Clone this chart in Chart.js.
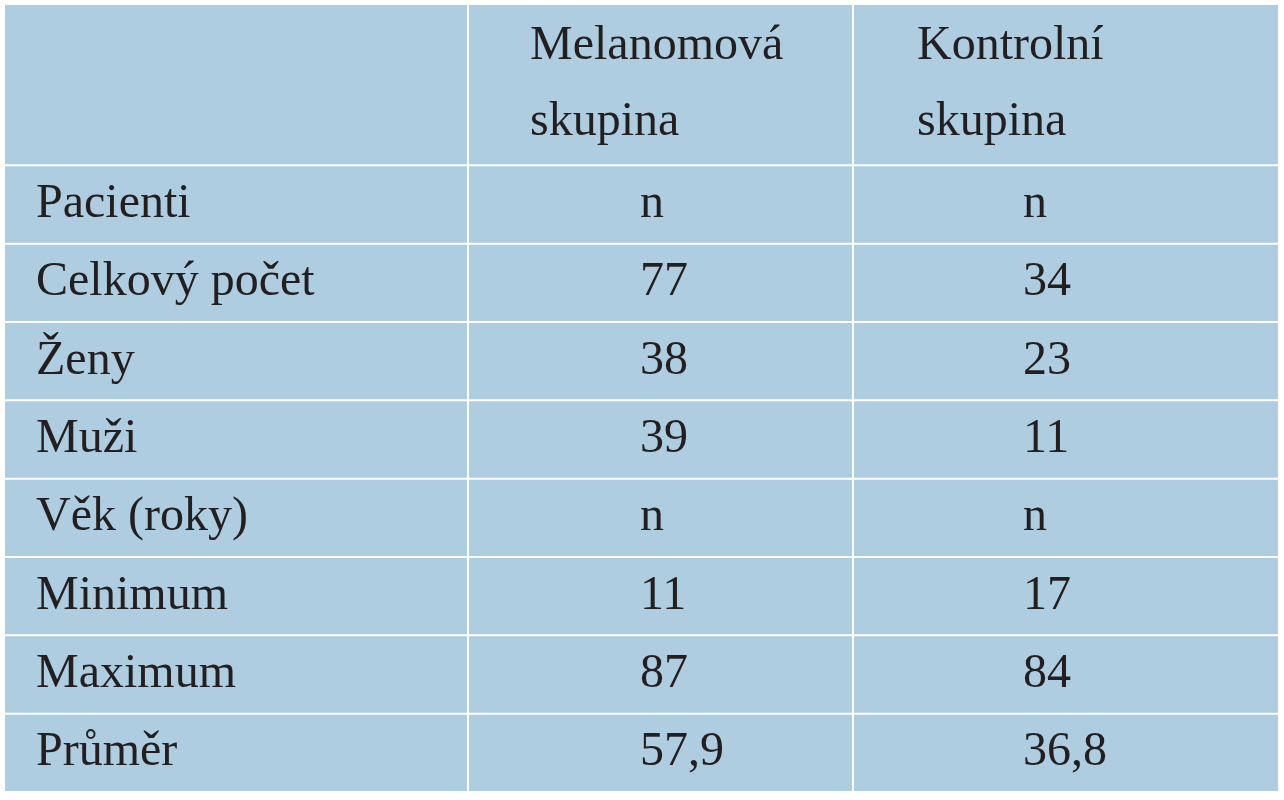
<!DOCTYPE html>
<html><head><meta charset="utf-8">
<script src="https://cdn.jsdelivr.net/npm/chart.js@4"></script>
<style>html,body{margin:0;padding:0;background:#fff}#w{width:1284px;height:800px}</style>
</head><body><div id="w"><canvas id="c"></canvas></div>
<script>
const headers = ["", "Melanomová\nskupina", "Kontrolní\nskupina"];
const rowLabels = ["Pacienti","Celkový počet","Ženy","Muži","Věk (roky)","Minimum","Maximum","Průměr"];
const melanoma = ["n","77","38","39","n","11","87","57,9"];
const control = ["n","34","23","11","n","17","84","36,8"];
const colBounds = [0,464,849,1275];
const rowBounds = [0,2.06,3.06,4.06,5.06,6.06,7.06,8.06,9.06,10.06];

const pts = [];
rowLabels.forEach((r,i)=>{
  const yc=(rowBounds[i+1]+rowBounds[i+2])/2;
  pts.push({x:colBounds[0]+32,y:yc,t:r,a:'left'});
  pts.push({x:colBounds[1]+172,y:yc,t:melanoma[i],a:'left'});
  pts.push({x:colBounds[2]+170,y:yc,t:control[i],a:'left'});
});
const hdr=[{x:colBounds[1]+62,y:1.03,t:headers[1],a:'left'},{x:colBounds[2]+64,y:1.03,t:headers[2],a:'left'}];

const tablePlugin={id:'tbl',
 beforeDatasetsDraw(ch){const a=ch.chartArea,c=ch.ctx;c.save();c.fillStyle='#aecde0';c.fillRect(a.left,a.top,a.width,a.height);
  c.strokeStyle='#ffffff';c.lineWidth=2;const xs=ch.scales.x,ys=ch.scales.y;
  colBounds.forEach(v=>{const p=xs.getPixelForValue(v);c.beginPath();c.moveTo(p,a.top);c.lineTo(p,a.bottom);c.stroke();});
  rowBounds.forEach(v=>{const p=ys.getPixelForValue(v);c.beginPath();c.moveTo(a.left,p);c.lineTo(a.right,p);c.stroke();});
  c.restore();},
 afterDatasetsDraw(ch){const c=ch.ctx,xs=ch.scales.x,ys=ch.scales.y;c.save();c.fillStyle='#231f20';c.font='48px "Liberation Serif"';c.textBaseline='middle';
  pts.concat(hdr).forEach(p=>{c.textAlign=p.a;const lines=p.t.split('\n');const px=xs.getPixelForValue(p.x),py=ys.getPixelForValue(p.y);
   lines.forEach((l,k)=>c.fillText(l,px,py+(k-(lines.length-1)/2)*76));});c.restore();}};

new Chart(document.getElementById('c'),{type:'scatter',
 data:{datasets:[{data:pts.map(p=>({x:p.x,y:p.y})),pointRadius:0}]},
 options:{responsive:true,maintainAspectRatio:false,animation:false,
  layout:{padding:{left:4,top:4,right:5,bottom:8}},
  plugins:{legend:{display:false},tooltip:{enabled:false}},
  scales:{x:{type:'linear',min:0,max:1275,display:false},
          y:{type:'linear',min:0,max:10.06,reverse:true,display:false}}},
 plugins:[tablePlugin]});
</script></body></html>
